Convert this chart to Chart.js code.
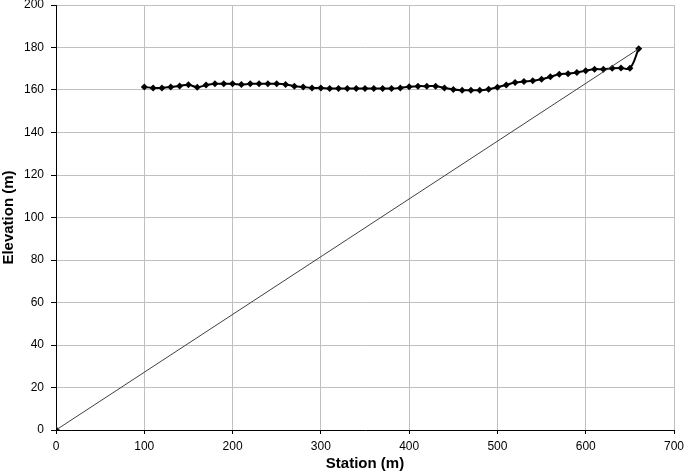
<!DOCTYPE html>
<html>
<head>
<meta charset="utf-8">
<script src="https://cdn.jsdelivr.net/npm/chart.js@4/dist/chart.umd.min.js"></script>
<style>
  html, body { margin: 0; padding: 0; background: #fff; }
  #wrap { width: 685px; height: 475px; position: relative; }
</style>
</head>
<body>
<div id="wrap"><canvas id="chartPerfil"></canvas></div>
<script>
// ==================== Dados ====================
const stations = [100, 110, 120, 130, 140, 150, 160, 170, 180, 190,
  200, 210, 220, 230, 240, 250, 260, 270, 280, 290,
  300, 310, 320, 330, 340, 350, 360, 370, 380, 390,
  400, 410, 420, 430, 440, 450, 460, 470, 480, 490,
  500, 510, 520, 530, 540, 550, 560, 570, 580, 590,
  600, 610, 620, 630, 640, 650, 660];
const elevations = [161.4, 161.0, 161.0, 161.4, 161.9, 162.5, 161.3, 162.3, 162.9, 162.9,
  162.9, 162.6, 162.9, 162.9, 162.9, 162.9, 162.6, 161.8, 161.4, 161.0,
  161.0, 160.7, 160.7, 160.7, 160.7, 160.7, 160.7, 160.7, 160.7, 161.0,
  161.5, 161.8, 161.8, 161.8, 161.0, 160.2, 159.9, 159.9, 159.9, 160.4,
  161.3, 162.4, 163.5, 164.0, 164.3, 165.1, 166.2, 167.4, 167.7, 168.2,
  169.1, 169.8, 169.8, 170.2, 170.4, 170.2, 179.4];
// linha reta do ultimo ponto ate a origem
const lineX = [660, 0];
const lineY = [179.4, 0];

const xTicks = [0, 100, 200, 300, 400, 500, 600, 700];
const yTicks = [0, 20, 40, 60, 80, 100, 120, 140, 160, 180, 200];

// ==================== Chart ====================
const perfilPts = stations.map((s, i) => ({ x: s, y: elevations[i] }));
const retaPts = lineX.map((x, i) => ({ x, y: lineY[i] }));

const ctx = document.getElementById('chartPerfil').getContext('2d');
new Chart(ctx, {
  type: 'scatter',
  data: {
    datasets: [
      {
        label: 'Reta',
        data: retaPts,
        showLine: true,
        borderColor: '#404040',
        borderWidth: 1,
        tension: 0,
        pointStyle: 'rectRot',
        pointRadius: [0, 3.5],
        backgroundColor: '#000'
      },
      {
        label: 'Perfil',
        data: perfilPts,
        showLine: true,
        borderColor: '#000',
        borderWidth: 2,
        tension: 0.4,
        pointStyle: 'rectRot',
        pointRadius: 3.5,
        pointBorderWidth: 0,
        backgroundColor: '#000',
        pointBackgroundColor: '#000'
      }
    ]
  },
  options: {
    responsive: true,
    maintainAspectRatio: false,
    animation: false,
    layout: { padding: { top: 5, right: 11, left: 0, bottom: 0 } },
    plugins: { legend: { display: false }, tooltip: { enabled: false } },
    scales: {
      x: {
        type: 'linear',
        min: 0, max: 700,
        afterBuildTicks: s => { s.ticks = xTicks.map(v => ({ value: v })); },
        afterFit: s => { s.height = 45; s.paddingRight = 0; s.paddingLeft = 0; },
        border: { color: '#000', width: 1 },
        grid: { color: '#c0c0c0', tickColor: '#000', tickLength: 4 },
        ticks: { color: '#000', font: { family: 'Liberation Sans', size: 12 }, padding: 5, maxRotation: 0 },
        title: { display: true, text: 'Station (m)', color: '#000', font: { family: 'Liberation Sans', size: 15, weight: 'bold' }, padding: { top: 0, bottom: 2 } }
      },
      y: {
        type: 'linear',
        min: 0, max: 200,
        afterBuildTicks: s => { s.ticks = yTicks.map(v => ({ value: v })); },
        afterFit: s => { s.width = 56; s.paddingTop = 0; s.paddingBottom = 0; },
        border: { color: '#000', width: 1 },
        grid: { color: '#c0c0c0', tickColor: '#000', tickLength: 5 },
        ticks: { color: '#000', font: { family: 'Liberation Sans', size: 12 }, padding: 7 },
        title: { display: true, text: 'Elevation (m)', color: '#000', font: { family: 'Liberation Sans', size: 15, weight: 'bold' }, padding: { top: 0, bottom: 2 } }
      }
    }
  }
});
</script>
</body>
</html>
